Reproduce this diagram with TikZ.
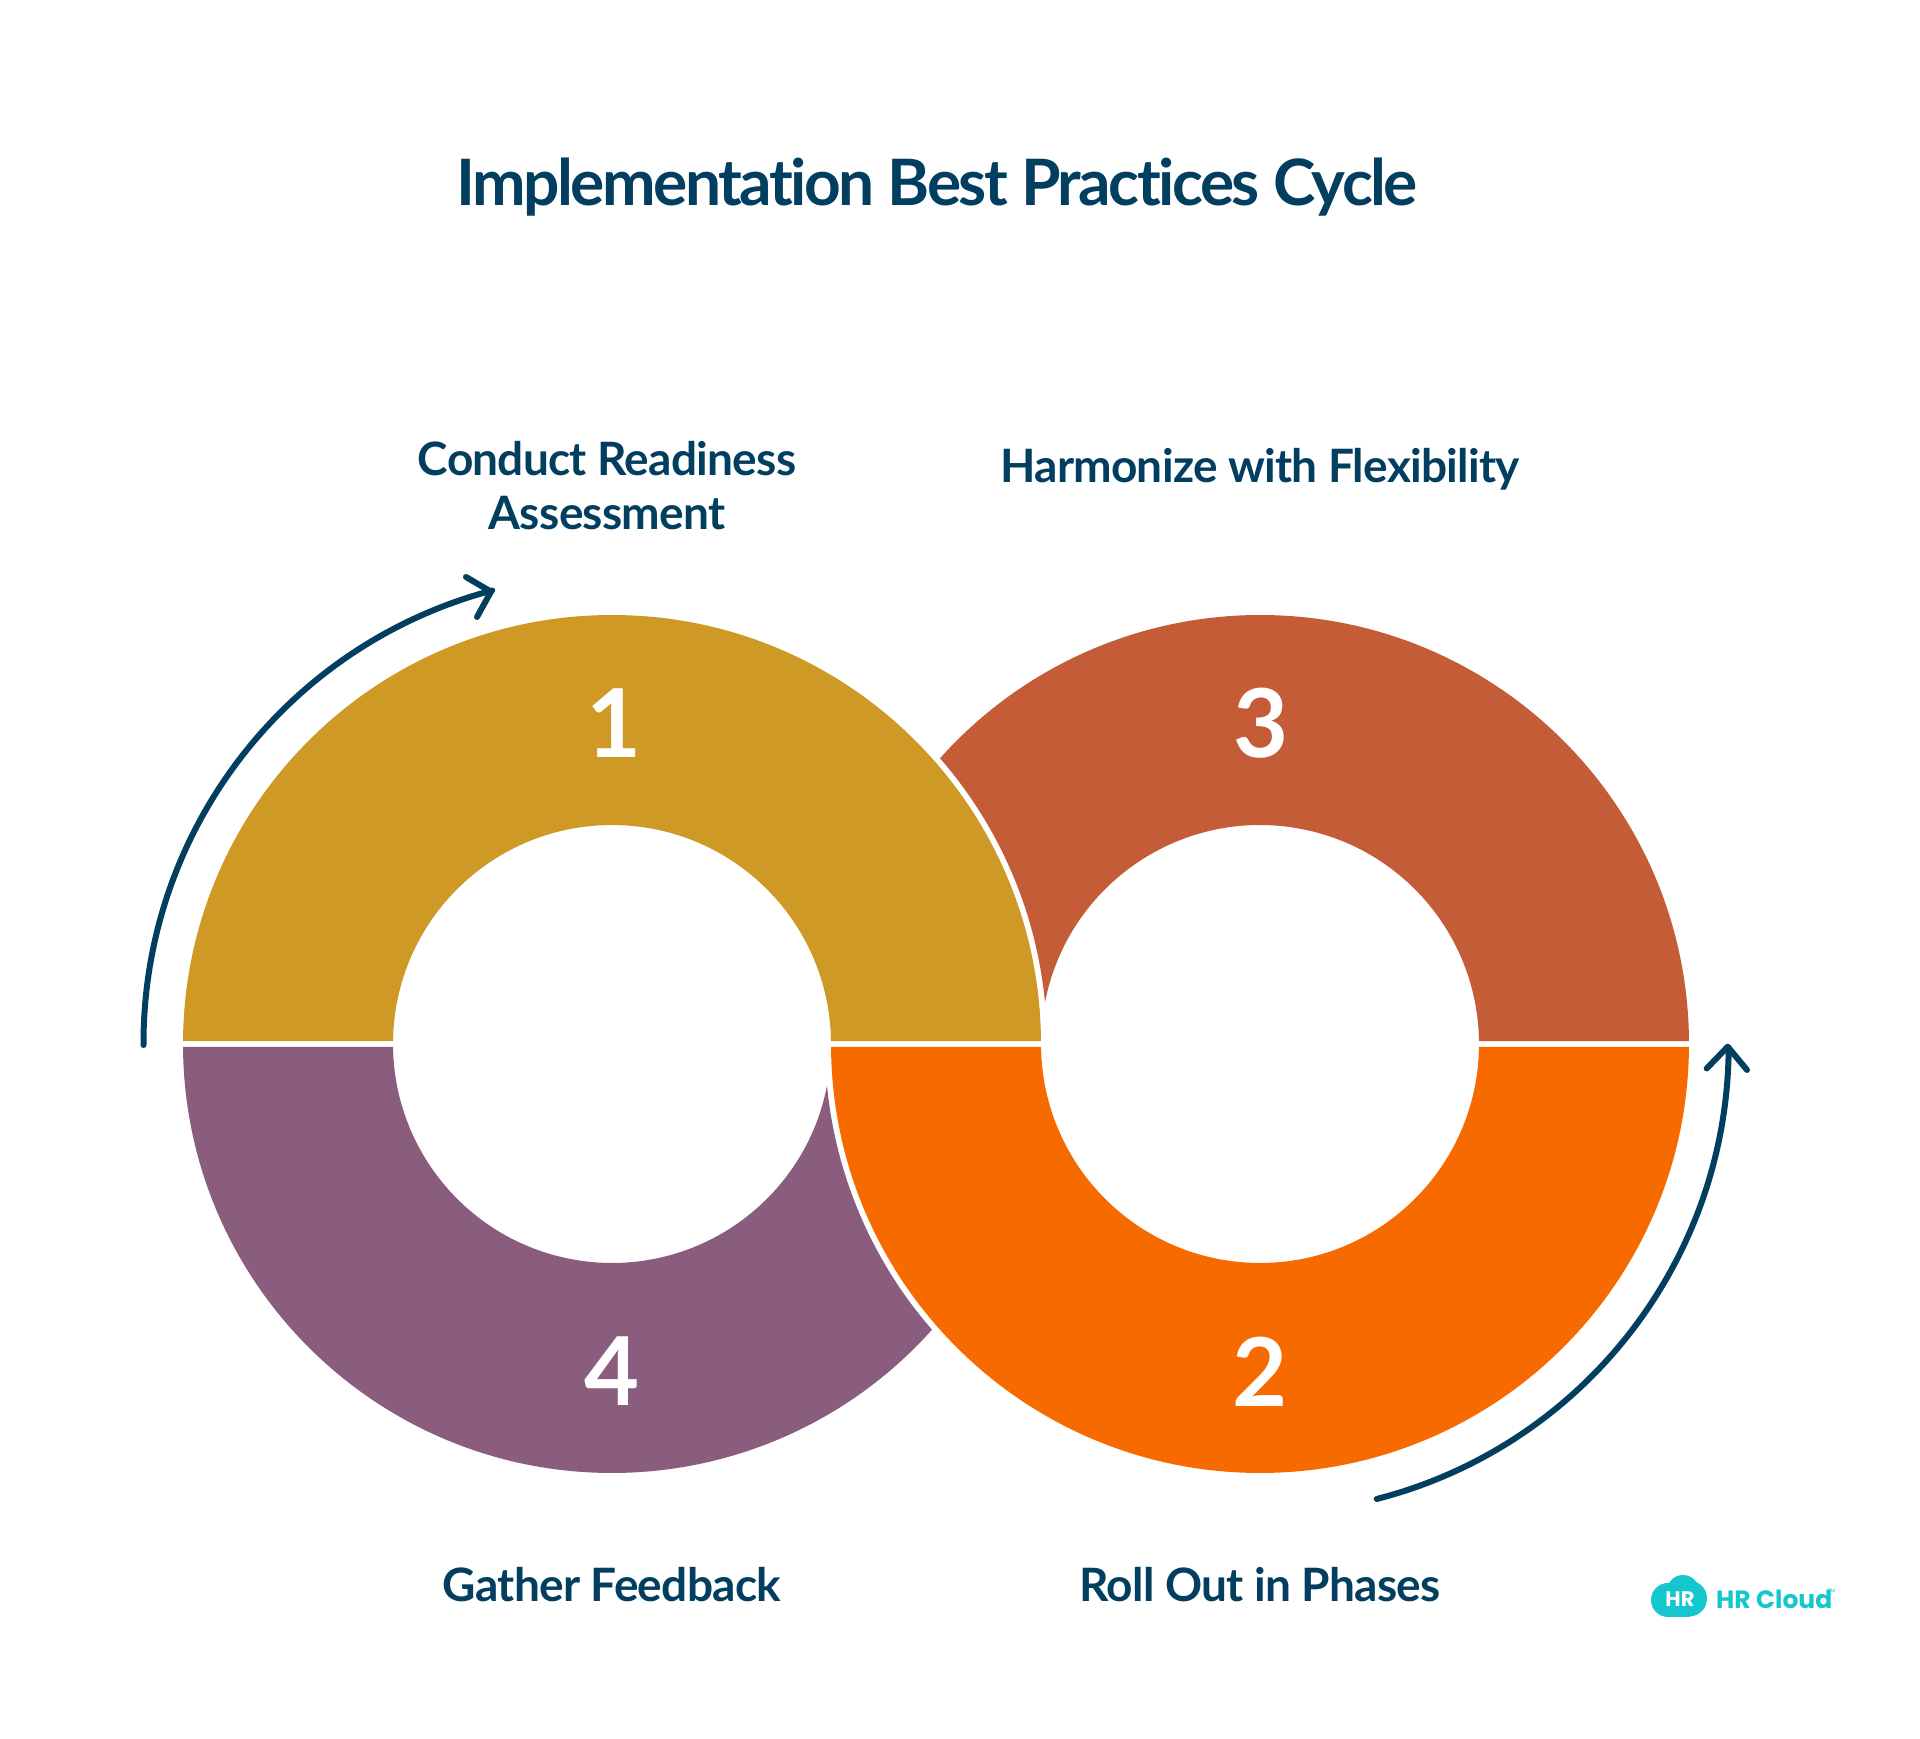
\documentclass[tikz,border=0pt]{standalone}
\usepackage{fontspec}
\setmainfont{Lato}[Ligatures=NoCommon]
\newfontfamily\titlefont{Lato}[LetterSpace=-3.9,Ligatures=NoCommon]
\newfontfamily\labelfont{Lato}[LetterSpace=-1.6,Ligatures=NoCommon]
\newfontfamily\digitfont{Lato}
\newfontfamily\logofont{Poppins}
\definecolor{navy}{HTML}{023E5F}
\definecolor{gold}{HTML}{CF9925}
\definecolor{rust}{HTML}{C55C38}
\definecolor{flame}{HTML}{F66A00}
\definecolor{plum}{HTML}{8A5C7E}
\definecolor{teal}{HTML}{14C6CE}
\tikzset{
  titletext/.style={font=\titlefont\fontsize{64}{70}\selectfont\bfseries,text=navy,inner sep=0pt},
  labeltext/.style={font=\labelfont\fontsize{46}{54}\selectfont\bfseries,text=navy,align=center,inner sep=0pt},
  numtext/.style={font=\digitfont\fontsize{95}{95}\selectfont\bfseries,text=white,inner sep=0pt,anchor=base},
  cyclearrow/.style={draw=navy,line width=6pt,line cap=round,line join=round},
}
\begin{document}
\begin{tikzpicture}[x=1pt,y=1pt]
\useasboundingbox (0,0) rectangle (1920,1738);
\fill[white] (0,0) rectangle (1920,1738);
\coordinate (L) at (612,694);
\coordinate (R) at (1260,694);
% segments
\fill[rust] (R) ++(0.4:429) arc[start angle=0.4,end angle=138.24,radius=429]
  arc[start angle=41.06,end angle=5.5,radius=435]
  arc[start angle=169.02,end angle=0.785,radius=219] -- cycle;
\fill[gold] (L) ++(0.4:429) arc[start angle=0.4,end angle=179.6,radius=429]
  -- ++(210,0) arc[start angle=179.215,end angle=0.785,radius=219] -- cycle;
\fill[flame] (R) ++(-179.6:429) arc[start angle=-179.6,end angle=-0.4,radius=429]
  -- ++(-210,0) arc[start angle=-0.785,end angle=-179.215,radius=219] -- cycle;
\fill[plum] (L) ++(180.4:429) arc[start angle=180.4,end angle=318.24,radius=429]
  arc[start angle=221.06,end angle=185.5,radius=435]
  arc[start angle=349.02,end angle=180.785,radius=219] -- cycle;
% numbers
\node[numtext] (n1) at (614,980) {1};
\node[numtext] (n3) at (1261,980) {3};
\node[numtext] (n4) at (612,332) {4};
\node[numtext] (n2) at (1260,331) {2};
% texts
\node[titletext] (title) at (937,1551) {Implementation Best Practices Cycle};
\node[labeltext] (a) at (607,1252) {Conduct Readiness\\Assessment};
\node[labeltext] (b) at (1260,1269) {Harmonize with Flexibility};
\node[labeltext] (c) at (612,153) {Gather Feedback};
\node[labeltext] (d) at (1260,153) {Roll Out in Phases};
% arrows
\coordinate (a1s) at (143.5,693);
\coordinate (a1t) at (491,1146.3);
\coordinate (a1u) at (466,1161);
\coordinate (a1v) at (477,1121);
\draw[cyclearrow] (a1s) arc[start angle=180.2,end angle=104.8,radius=468.5];
\draw[cyclearrow] (a1u) -- (a1t) -- (a1v);
\coordinate (a2s) at (1376.7,239);
\coordinate (a2t) at (1727.7,691.3);
\coordinate (a2u) at (1706.7,669.5);
\coordinate (a2v) at (1747,668);
\draw[cyclearrow] (a2s) arc[start angle=-75.6,end angle=-0.3,radius=468.5];
\draw[cyclearrow] (a2u) -- (a2t) -- (a2v);
% logo
\fill[teal] (1668,138) circle[radius=17];
\fill[teal] (1683,147) circle[radius=16];
\fill[teal] (1689,139.5) circle[radius=18];
\fill[teal] (1668,121) rectangle (1690,135);
\node[inner sep=0pt,text=white,font=\logofont\fontsize{21}{21}\selectfont\bfseries] (logoa) at (1680,139) {HR};
\node[inner sep=0pt,text=teal,anchor=west,font=\logofont\fontsize{25}{25}\selectfont\bfseries] (logob) at (1716,139) {HR Cloud};
\node[inner sep=0pt,text=teal,anchor=west,font=\logofont\fontsize{5}{5}\selectfont] (logoc) at (1828,147) {TM};
\end{tikzpicture}
\end{document}
